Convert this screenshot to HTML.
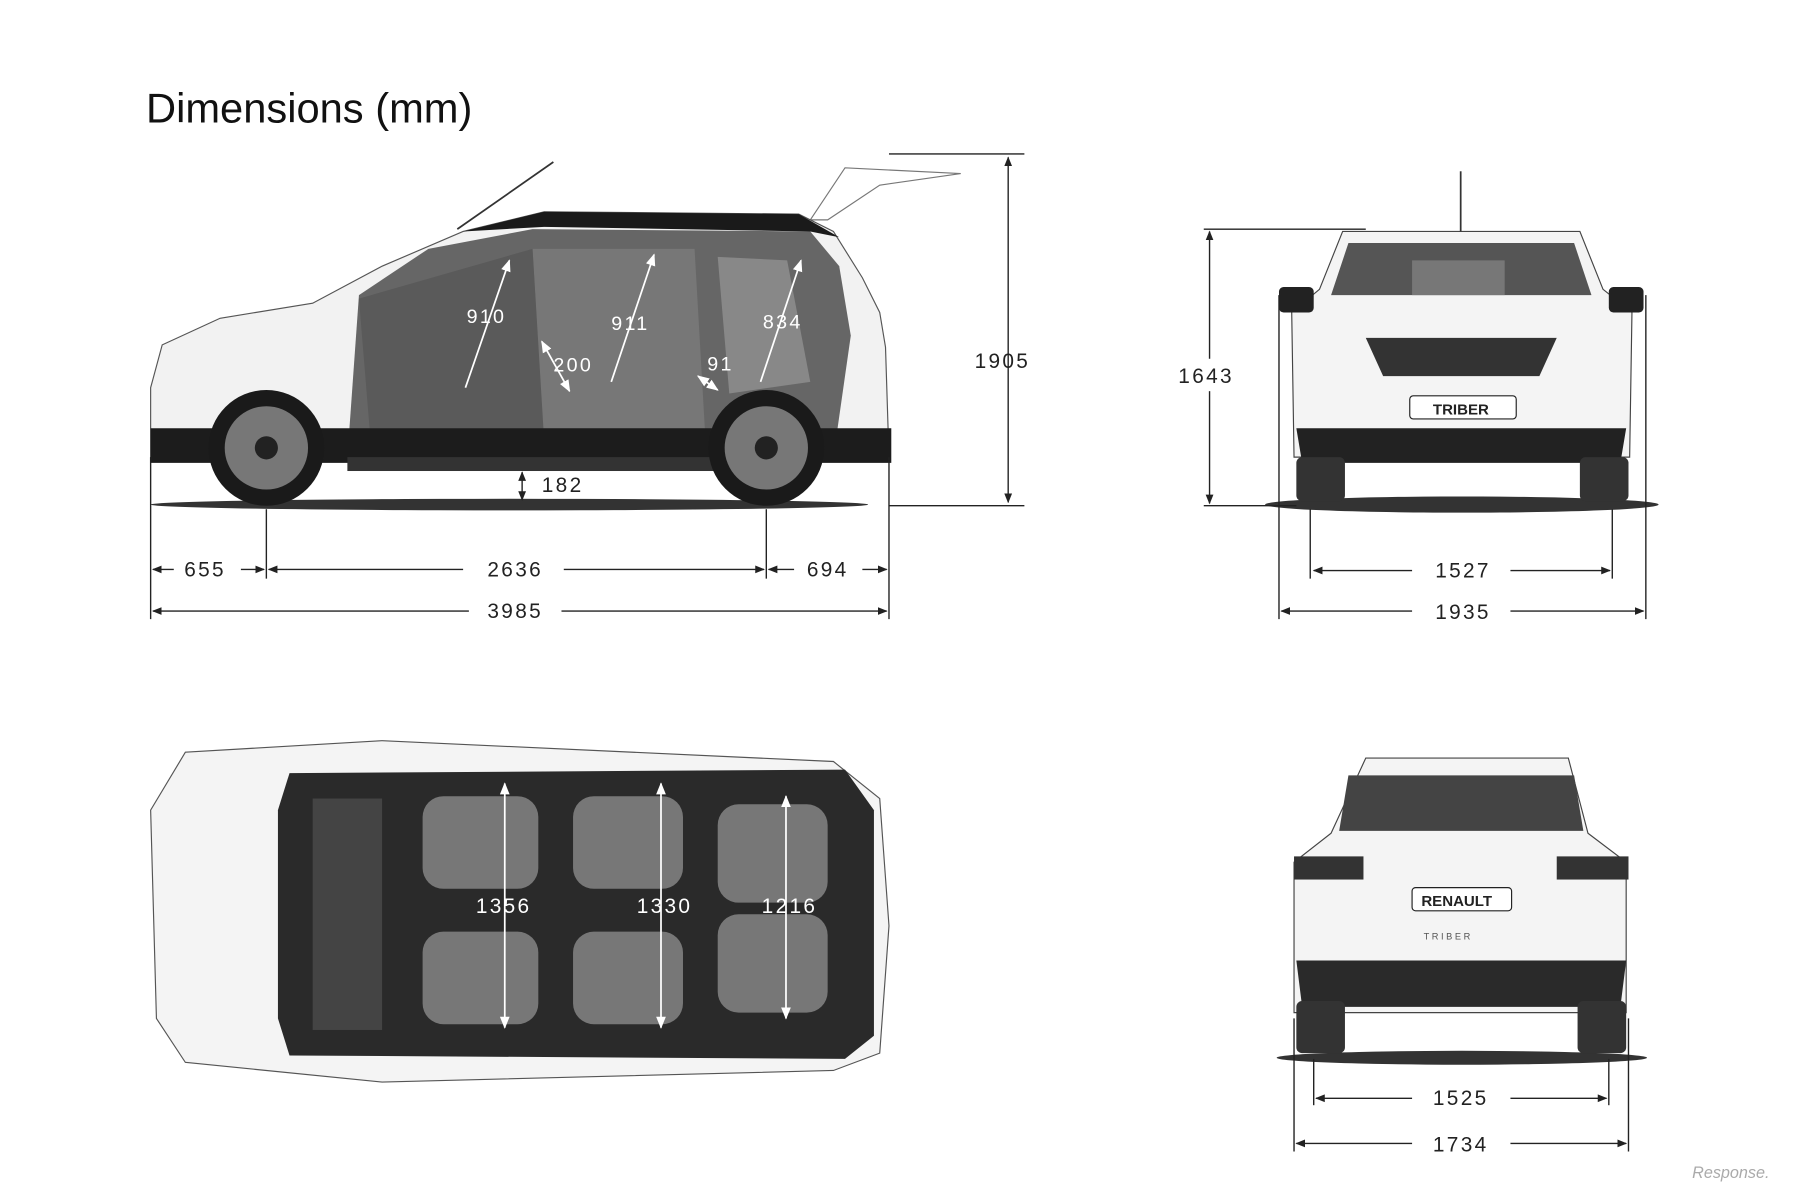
<!DOCTYPE html>
<html><head><meta charset="utf-8"><style>
html,body{margin:0;padding:0;background:#fff;}
svg{display:block;}
text{font-family:"Liberation Sans",sans-serif;}
</style></head><body>
<svg width="1815" height="1192" viewBox="0 0 1568 1030" xmlns="http://www.w3.org/2000/svg">
<defs>
<marker id="a" viewBox="0 0 10 10" refX="9" refY="5" markerWidth="7" markerHeight="7" orient="auto-start-reverse"><path d="M0,1 L10,5 L0,9 z" fill="#222"/></marker>
<marker id="w" viewBox="0 0 10 10" refX="9" refY="5" markerWidth="7" markerHeight="7" orient="auto-start-reverse"><path d="M0,1 L10,5 L0,9 z" fill="#fff"/></marker>
</defs>
<rect width="1568" height="1030" fill="#fff"/>
<text x="126" y="106" font-size="36" fill="#111">Dimensions (mm)</text>

<!-- SIDE VIEW -->
<ellipse cx="440" cy="436" rx="310" ry="5" fill="#333"/>
<path d="M395,198 L478,140" stroke="#333" stroke-width="1.5"/>
<path d="M700,190 L730,145 L830,150 L760,160 L715,190z" fill="#fff" stroke="#777"/>
<path d="M130,335 L140,298 L190,275 L270,262 L330,230 L400,200 L470,183 L690,185 L720,200 L745,240 L760,270 L765,300 L768,395 L130,395z" fill="#f2f2f2" stroke="#555"/>
<path d="M310,255 L370,215 L460,198 L700,200 L725,230 L735,290 L720,395 L300,395z" fill="#666"/>
<path d="M460,215 L600,215 L610,390 L470,390z" fill="#777"/>
<path d="M620,222 L680,225 L700,330 L630,340z" fill="#888"/>
<path d="M310,258 L460,215 L470,380 L320,380z" fill="#5a5a5a"/>
<path d="M400,200 L470,183 L690,185 L725,205 L700,200 L470,196z" fill="#1a1a1a"/>
<path d="M130,370 L770,370 L770,400 L130,400z" fill="#1c1c1c"/>
<rect x="300" y="395" width="330" height="12" fill="#333"/>
<circle cx="230" cy="387" r="50" fill="#1a1a1a"/><circle cx="230" cy="387" r="36" fill="#777"/><circle cx="230" cy="387" r="10" fill="#222"/>
<circle cx="662" cy="387" r="50" fill="#1a1a1a"/><circle cx="662" cy="387" r="36" fill="#777"/><circle cx="662" cy="387" r="10" fill="#222"/>
<g stroke="#fff" stroke-width="1.5" fill="none" marker-end="url(#w)">
<path d="M402,335 L440,225"/><path d="M528,330 L565,220"/><path d="M657,330 L692,225"/>
<path d="M468,295 L492,338" marker-start="url(#w)"/><path d="M603,325 L620,337" marker-start="url(#w)"/>
</g>
<g fill="#fff" font-size="17" letter-spacing="2"><text x="403" y="279">910</text><text x="528" y="285">911</text><text x="659" y="284">834</text><text x="478" y="321">200</text><text x="611" y="320">91</text></g>
<g stroke="#222" stroke-width="1.2" fill="none">
<path d="M130,395 V535"/><path d="M230,440 V500"/><path d="M662,440 V500"/><path d="M768,395 V535"/>
<path d="M768,133 H885"/><path d="M768,437 H885"/>
<path d="M871,136 V434" marker-start="url(#a)" marker-end="url(#a)"/>
<path d="M451,408 V432" marker-start="url(#a)" marker-end="url(#a)"/>
<path d="M132,492 H150" marker-start="url(#a)"/><path d="M208,492 H228" marker-end="url(#a)"/>
<path d="M232,492 H400" marker-start="url(#a)"/><path d="M487,492 H660" marker-end="url(#a)"/>
<path d="M664,492 H686" marker-start="url(#a)"/><path d="M745,492 H766" marker-end="url(#a)"/>
<path d="M132,528 H405" marker-start="url(#a)"/><path d="M485,528 H766" marker-end="url(#a)"/>
</g>
<g font-size="18" fill="#222" letter-spacing="2"><text x="159" y="498">655</text><text x="421" y="498">2636</text><text x="697" y="498">694</text><text x="421" y="534">3985</text><text x="842" y="318">1905</text><text x="468" y="425">182</text></g>

<!-- FRONT VIEW -->
<ellipse cx="1263" cy="436" rx="170" ry="7" fill="#333"/>
<path d="M1160,200 L1365,200 L1385,250 L1410,270 L1408,395 L1118,395 L1116,270 L1140,250z" fill="#f4f4f4" stroke="#444"/>
<path d="M1165,210 L1360,210 L1375,255 L1150,255z" fill="#555"/>
<rect x="1220" y="225" width="80" height="30" fill="#777"/>
<path d="M1180,292 L1345,292 L1330,325 L1195,325z" fill="#333"/>
<path d="M1120,370 L1405,370 L1400,400 L1125,400z" fill="#222"/>
<rect x="1120" y="395" width="42" height="38" rx="5" fill="#333"/><rect x="1365" y="395" width="42" height="38" rx="5" fill="#333"/>
<rect x="1105" y="248" width="30" height="22" rx="4" fill="#222"/><rect x="1390" y="248" width="30" height="22" rx="4" fill="#222"/>
<rect x="1218" y="342" width="92" height="20" rx="3" fill="#fff" stroke="#222"/>
<text x="1238" y="358" font-size="13" font-weight="bold" fill="#222">TRIBER</text>
<path d="M1262,148 V200" stroke="#333" stroke-width="1.5"/>
<g stroke="#222" stroke-width="1.2" fill="none">
<path d="M1040,198 H1180"/><path d="M1040,437 H1120"/>
<path d="M1045,200 V435" marker-start="url(#a)" marker-end="url(#a)"/>
<path d="M1105,255 V535"/><path d="M1422,255 V535"/><path d="M1132,440 V500"/><path d="M1393,440 V500"/>
<path d="M1135,493 H1220" marker-start="url(#a)"/><path d="M1305,493 H1391" marker-end="url(#a)"/>
<path d="M1107,528 H1220" marker-start="url(#a)"/><path d="M1305,528 H1420" marker-end="url(#a)"/>
</g>
<rect x="1015" y="310" width="58" height="28" fill="#fff"/>
<g font-size="18" fill="#222" letter-spacing="2"><text x="1240" y="499">1527</text><text x="1240" y="535">1935</text><text x="1018" y="331">1643</text></g>

<!-- TOP VIEW -->
<path d="M160,650 L330,640 L720,658 L760,690 L768,800 L760,910 L720,925 L330,935 L160,918 L135,880 L130,700z" fill="#f4f4f4" stroke="#555"/>
<path d="M250,668 L730,665 L755,700 L755,895 L730,915 L250,912 L240,880 L240,700z" fill="#2a2a2a"/>
<g fill="#777"><rect x="365" y="688" width="100" height="80" rx="18"/><rect x="365" y="805" width="100" height="80" rx="18"/>
<rect x="495" y="688" width="95" height="80" rx="18"/><rect x="495" y="805" width="95" height="80" rx="18"/>
<rect x="620" y="695" width="95" height="85" rx="18"/><rect x="620" y="790" width="95" height="85" rx="18"/></g>
<rect x="270" y="690" width="60" height="200" fill="#444"/>
<g stroke="#fff" stroke-width="1.5" fill="none">
<path d="M436,677 V888" marker-start="url(#w)" marker-end="url(#w)"/>
<path d="M571,677 V888" marker-start="url(#w)" marker-end="url(#w)"/>
<path d="M679,688 V880" marker-start="url(#w)" marker-end="url(#w)"/>
</g>
<g fill="#fff" font-size="18" letter-spacing="2"><text x="411" y="789">1356</text><text x="550" y="789">1330</text><text x="658" y="789">1216</text></g>

<!-- REAR VIEW -->
<ellipse cx="1263" cy="914" rx="160" ry="6" fill="#333"/>
<path d="M1180,655 L1355,655 L1372,720 L1405,745 L1405,875 L1118,875 L1118,745 L1150,720z" fill="#f4f4f4" stroke="#444"/>
<path d="M1165,670 L1360,670 L1368,718 L1157,718z" fill="#444"/>
<rect x="1118" y="740" width="60" height="20" fill="#333"/><rect x="1345" y="740" width="62" height="20" fill="#333"/>
<path d="M1120,830 L1405,830 L1400,870 L1125,870z" fill="#2a2a2a"/>
<rect x="1120" y="865" width="42" height="45" rx="5" fill="#333"/><rect x="1363" y="865" width="42" height="45" rx="5" fill="#333"/>
<rect x="1220" y="767" width="86" height="20" rx="3" fill="#fff" stroke="#222"/>
<text x="1228" y="783" font-size="13" font-weight="bold" fill="#222">RENAULT</text>
<text x="1230" y="812" font-size="8" fill="#555">T R I B E R</text>
<g stroke="#222" stroke-width="1.2" fill="none">
<path d="M1118,880 V995"/><path d="M1407,880 V995"/><path d="M1135,915 V955"/><path d="M1390,915 V955"/>
<path d="M1137,949 H1220" marker-start="url(#a)"/><path d="M1305,949 H1388" marker-end="url(#a)"/>
<path d="M1120,988 H1220" marker-start="url(#a)"/><path d="M1305,988 H1405" marker-end="url(#a)"/>
</g>
<g font-size="18" fill="#222" letter-spacing="2"><text x="1238" y="955">1525</text><text x="1238" y="995">1734</text></g>
<text x="1462" y="1018" font-size="14" font-style="italic" fill="#aaa">Response.</text>
</svg>
</body></html>
